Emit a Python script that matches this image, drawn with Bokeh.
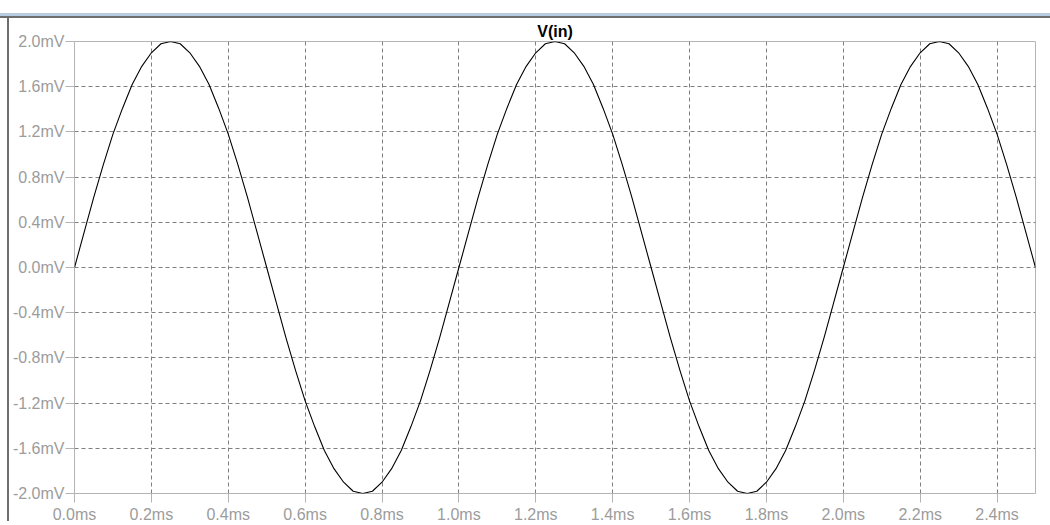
from bokeh.plotting import figure
from bokeh.models import Range1d, FixedTicker, CustomJSTickFormatter, Div
from bokeh.layouts import column, row
from bokeh.embed import file_html
from bokeh.resources import INLINE

# Transient trace V(in): time in ms, voltage in mV
time_ms = [round(i * 0.025, 3) for i in range(101)]
v_in_mv = [
    0.00, 0.31, 0.62, 0.91, 1.18, 1.41, 1.62, 1.78, 1.90, 1.98, 2.00,
    1.98, 1.90, 1.78, 1.62, 1.41, 1.18, 0.91, 0.62, 0.31, 0.00,
    -0.31, -0.62, -0.91, -1.18, -1.41, -1.62, -1.78, -1.90, -1.98, -2.00,
    -1.98, -1.90, -1.78, -1.62, -1.41, -1.18, -0.91, -0.62, -0.31, 0.00,
    0.31, 0.62, 0.91, 1.18, 1.41, 1.62, 1.78, 1.90, 1.98, 2.00,
    1.98, 1.90, 1.78, 1.62, 1.41, 1.18, 0.91, 0.62, 0.31, 0.00,
    -0.31, -0.62, -0.91, -1.18, -1.41, -1.62, -1.78, -1.90, -1.98, -2.00,
    -1.98, -1.90, -1.78, -1.62, -1.41, -1.18, -0.91, -0.62, -0.31, 0.00,
    0.31, 0.62, 0.91, 1.18, 1.41, 1.62, 1.78, 1.90, 1.98, 2.00,
    1.98, 1.90, 1.78, 1.62, 1.41, 1.18, 0.91, 0.62, 0.31, 0.00,
]

x_ticks = [0.0, 0.2, 0.4, 0.6, 0.8, 1.0, 1.2, 1.4, 1.6, 1.8, 2.0, 2.2, 2.4]
x_tick_labels = ["0.0ms", "0.2ms", "0.4ms", "0.6ms", "0.8ms", "1.0ms", "1.2ms",
                 "1.4ms", "1.6ms", "1.8ms", "2.0ms", "2.2ms", "2.4ms"]
y_ticks = [-2.0, -1.6, -1.2, -0.8, -0.4, 0.0, 0.4, 0.8, 1.2, 1.6, 2.0]
y_tick_labels = ["-2.0mV", "-1.6mV", "-1.2mV", "-0.8mV", "-0.4mV", "0.0mV",
                 "0.4mV", "0.8mV", "1.2mV", "1.6mV", "2.0mV"]
trace_name = "V(in)"

LABEL_FONT = "Liberation Sans"
LABEL_COLOR = "#9c9c9c"
FRAME_COLOR = "#b4b4b4"
GRID_COLOR = "#7f7f7f"
PANE_EDGE = "#6e6e6e"

p = figure(
    width=1041, height=507,
    x_range=Range1d(0, 2.5), y_range=Range1d(-2.0, 2.0),
    output_backend="svg", toolbar_location=None,
    min_border_left=63, min_border_right=15,
    min_border_top=23, min_border_bottom=32,
    title=trace_name,
)
p.background_fill_color = "white"
p.border_fill_color = "white"
p.outline_line_color = FRAME_COLOR
p.outline_line_width = 1

p.title.align = "center"
p.title.text_font = LABEL_FONT
p.title.text_font_size = "16px"
p.title.text_font_style = "bold"
p.title.text_color = "black"
p.title.standoff = 3
p.title.offset = 0

lookup = """
let best = 0;
for (let i = 0; i < tick_vals.length; i++) {
    if (Math.abs(tick_vals[i] - tick) < Math.abs(tick_vals[best] - tick)) best = i;
}
return tick_text[best];
"""
p.xaxis.ticker = FixedTicker(ticks=x_ticks)
p.yaxis.ticker = FixedTicker(ticks=y_ticks)
p.xaxis.formatter = CustomJSTickFormatter(args=dict(tick_vals=x_ticks, tick_text=x_tick_labels), code=lookup)
p.yaxis.formatter = CustomJSTickFormatter(args=dict(tick_vals=y_ticks, tick_text=y_tick_labels), code=lookup)

for ax in (p.xaxis, p.yaxis):
    ax.axis_line_color = None
    ax.major_tick_in = 0
    ax.major_tick_out = 9
    ax.major_tick_line_color = FRAME_COLOR
    ax.minor_tick_line_color = None
    ax.major_label_text_font = LABEL_FONT
    ax.major_label_text_font_size = "16px"
    ax.major_label_text_color = LABEL_COLOR
p.xaxis.major_label_standoff = 3
p.yaxis.major_label_standoff = 1

# dashed grid only inside the frame edges
p.xgrid.ticker = FixedTicker(ticks=x_ticks[1:])
p.ygrid.ticker = FixedTicker(ticks=y_ticks[1:-1])
for g in (p.xgrid, p.ygrid):
    g.grid_line_color = GRID_COLOR
    g.grid_line_dash = "4 3"
    g.grid_line_width = 1

p.line(time_ms, v_in_mv, line_color="black", line_width=1.1)

# window chrome: title-bar edge across the top, pane border on the left
top_bar = Div(
    width=1050, height=18, margin=0,
    text=('<div style="font-size:0;line-height:0">'
          '<div style="height:13px;width:1050px;background:#ffffff"></div>'
          '<div style="height:3px;width:1050px;background:#b7cbe3"></div>'
          f'<div style="height:2px;width:1050px;background:{PANE_EDGE}"></div>'
          '</div>'),
)
left_bar = Div(
    width=9, height=507, margin=0,
    text=('<div style="font-size:0;line-height:0">'
          f'<div style="margin-left:7px;width:2px;height:503px;background:{PANE_EDGE}"></div>'
          '</div>'),
)

layout = column(top_bar, row(left_bar, p, spacing=0), spacing=0)

open("out.html", "w").write(file_html(layout, INLINE))
